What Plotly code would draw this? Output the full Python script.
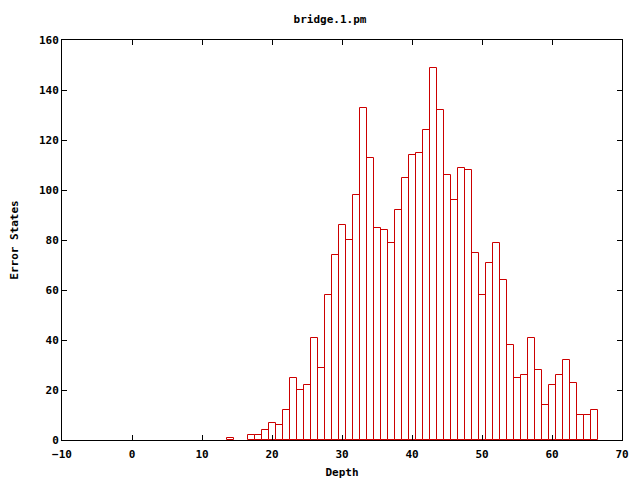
import plotly.graph_objects as go

depth = [14, 17, 18, 19, 20, 21, 22, 23, 24, 25, 26, 27, 28, 29, 30, 31, 32, 33, 34, 35,
         36, 37, 38, 39, 40, 41, 42, 43, 44, 45, 46, 47, 48, 49, 50, 51, 52, 53, 54, 55,
         56, 57, 58, 59, 60, 61, 62, 63, 64, 65, 66]
error_states = [1, 2, 2, 4, 7, 6, 12, 25, 20, 22, 41, 29, 58, 74, 86, 80, 98, 133, 113, 85,
                84, 79, 92, 105, 114, 115, 124, 149, 132, 106, 96, 109, 108, 75, 58, 71, 79, 64, 38, 25,
                26, 41, 28, 14, 22, 26, 32, 23, 10, 10, 12]
x_ticks = list(range(-10, 71, 10))
y_ticks = list(range(0, 161, 20))

FONT = "DejaVu Sans Mono"

fig = go.Figure()
fig.add_trace(go.Bar(
    x=depth, y=error_states, width=1.0,
    marker=dict(color="rgba(255,255,255,0)", line=dict(color="#cc0000", width=1)),
))

axis_common = dict(
    showgrid=False, zeroline=False, showline=True, linecolor="black", linewidth=1,
    mirror="ticks", ticks="inside", ticklen=5, tickcolor="black", automargin=False,
    tickfont=dict(family=FONT, size=11, color="black", weight="bold"),
)
# The page body has an 8px default margin, so the figure is shifted by 8px.
fig.update_layout(
    width=640, height=480,
    margin=dict(l=54, r=26, t=32, b=48),
    paper_bgcolor="white", plot_bgcolor="white",
    showlegend=False, bargap=0,
    title=dict(text="bridge.1.pm", x=(330 - 8) / 640, xanchor="center", y=1 - 11 / 480, yanchor="middle",
               font=dict(family=FONT, size=11, color="black", weight="bold")),
    xaxis=dict(range=[-10, 70], tickvals=x_ticks, ticklabelstandoff=4, **axis_common,
               title=dict(text="Depth", standoff=8,
                          font=dict(family=FONT, size=11, color="black", weight="bold"))),
    yaxis=dict(range=[0, 160], tickvals=y_ticks, **axis_common,
               title=dict(text="Error States", standoff=18,
                          font=dict(family=FONT, size=11, color="black", weight="bold"))),
)
fig.write_html("out.html")
